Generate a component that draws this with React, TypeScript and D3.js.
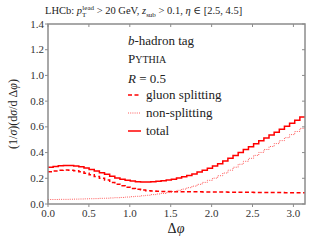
import React from 'react'
import * as d3 from 'd3'

// 50 bins over [0, pi]
const gluonSplitting = [
  0.250, 0.257, 0.262, 0.264, 0.263, 0.258, 0.250, 0.240, 0.228, 0.214,
  0.200, 0.186, 0.168, 0.154, 0.141, 0.130, 0.121, 0.114, 0.108, 0.104,
  0.101, 0.099, 0.098, 0.097, 0.096, 0.096, 0.096, 0.095, 0.095, 0.095,
  0.094, 0.094, 0.094, 0.093, 0.093, 0.092, 0.092, 0.091, 0.091, 0.091,
  0.090, 0.090, 0.090, 0.089, 0.089, 0.089, 0.088, 0.088, 0.088, 0.088,
]
const nonSplitting = [
  0.035, 0.035, 0.036, 0.036, 0.037, 0.038, 0.039, 0.040, 0.041, 0.042,
  0.044, 0.045, 0.047, 0.049, 0.051, 0.054, 0.057, 0.060, 0.064, 0.068,
  0.073, 0.078, 0.082, 0.089, 0.097, 0.106, 0.116, 0.127, 0.139, 0.153,
  0.168, 0.184, 0.201, 0.220, 0.241, 0.263, 0.286, 0.309, 0.332, 0.355,
  0.378, 0.401, 0.424, 0.447, 0.470, 0.493, 0.516, 0.540, 0.564, 0.588,
]
const total = [
  0.285, 0.292, 0.298, 0.300, 0.300, 0.296, 0.289, 0.280, 0.269, 0.256,
  0.244, 0.231, 0.215, 0.203, 0.192, 0.184, 0.178, 0.174, 0.172, 0.172,
  0.174, 0.177, 0.180, 0.186, 0.193, 0.202, 0.212, 0.222, 0.234, 0.248,
  0.262, 0.278, 0.295, 0.313, 0.334, 0.355, 0.378, 0.400, 0.423, 0.446,
  0.468, 0.491, 0.514, 0.536, 0.559, 0.582, 0.604, 0.628, 0.652, 0.676,
]
const xTicks = [0, 0.5, 1.0, 1.5, 2.0, 2.5, 3.0]
const yTicks = [0, 0.2, 0.4, 0.6, 0.8, 1.0, 1.2, 1.4]
const legendLabels = ['gluon splitting', 'non-splitting', 'total']

const W = 320
const H = 240
const margin = { top: 24, right: 15, bottom: 36, left: 48 }
const serif = '"Liberation Serif", "DejaVu Serif", serif'
const red = '#ff0000'

export default function App() {
  const iw = W - margin.left - margin.right
  const ih = H - margin.top - margin.bottom
  const x = d3.scaleLinear().domain([0, Math.PI]).range([0, iw])
  const y = d3.scaleLinear().domain([0, 1.4]).range([ih, 0])

  const nBins = total.length
  const binW = Math.PI / nBins
  const stepPath = (vals: number[]) => {
    const pts: [number, number][] = vals.map((v, i) => [i * binW, v])
    pts.push([Math.PI, vals[vals.length - 1]])
    return d3.line<[number, number]>()
      .x(d => x(d[0]))
      .y(d => y(d[1]))
      .curve(d3.curveStepAfter)(pts) as string
  }

  const styles = [
    { dash: '4,2.5', width: 1.5, color: red, opacity: 1 },
    { dash: '1,1.2', width: 1, color: '#ff4040', opacity: 0.85 },
    { dash: 'none', width: 1.5, color: red, opacity: 1 },
  ]
  const series = [gluonSplitting, nonSplitting, total]

  const frame = '#8c8c8c'
  const tickLen = 3

  return (
    <svg width={W} height={H} style={{ position: 'absolute', left: 0, top: 0 }}>
      <rect width={W} height={H} fill="white" />
      <text x={45} y={14} fontFamily={serif} fontSize={10.5} fill="#222">
        LHCb: <tspan fontStyle="italic">p</tspan>
        <tspan fontSize={7} dy={2.5}>T</tspan>
        <tspan fontSize={7} dx={-4} dy={-7}>lead</tspan>
        <tspan dy={4.5}> &gt; 20 GeV,  </tspan>
        <tspan fontStyle="italic">z</tspan>
        <tspan fontSize={7} dy={2.5}>sub</tspan>
        <tspan dy={-2.5}> &gt; 0.1,  </tspan>
        <tspan fontStyle="italic">η</tspan>
        <tspan> ∈ [2.5, 4.5]</tspan>
      </text>
      <g transform={`translate(${margin.left},${margin.top})`}>
        {series.map((s, i) => (
          <path key={i} d={stepPath(s)} fill="none" stroke={styles[i].color}
            strokeWidth={styles[i].width} strokeDasharray={styles[i].dash}
            opacity={styles[i].opacity} />
        ))}
        <rect width={iw} height={ih} fill="none" stroke={frame} strokeWidth={1.5} />
        {xTicks.map(t => (
          <g key={'x' + t}>
            <line x1={x(t)} x2={x(t)} y1={ih} y2={ih + tickLen} stroke={frame} />
            <line x1={x(t)} x2={x(t)} y1={0} y2={tickLen} stroke={frame} />
            <text x={x(t)} y={ih + 13} textAnchor="middle" fontFamily={serif}
              fontSize={11} fill="#333">{t.toFixed(1)}</text>
          </g>
        ))}
        {yTicks.map(t => (
          <g key={'y' + t}>
            <line x1={-tickLen} x2={0} y1={y(t)} y2={y(t)} stroke={frame} />
            <line x1={iw - tickLen} x2={iw} y1={y(t)} y2={y(t)} stroke={frame} />
            <text x={-4} y={y(t) + 3.5} textAnchor="end" fontFamily={serif}
              fontSize={11} fill="#333">{t.toFixed(1)}</text>
          </g>
        ))}
      </g>
      <text x={176} y={233} textAnchor="middle" fontFamily={serif} fontSize={14} fill="#222">
        Δ<tspan fontStyle="italic">φ</tspan>
      </text>
      <text transform="translate(17,114) rotate(-90)" textAnchor="middle" fontFamily={serif}
        fontSize={12} fill="#222">
        (1/<tspan fontStyle="italic">σ</tspan>)(d<tspan fontStyle="italic">σ</tspan>/d Δ<tspan fontStyle="italic">φ</tspan>)
      </text>
      <g fontFamily={serif} fill="#222">
        <text x={128} y={45} fontSize={13}>
          <tspan fontStyle="italic">b</tspan>-hadron tag
        </text>
        <text x={128} y={63} fontSize={13}>
          P<tspan fontSize={10}>YTHIA</tspan>
        </text>
        <text x={128} y={83} fontSize={13}>
          <tspan fontStyle="italic">R</tspan> = 0.5
        </text>
        {legendLabels.map((l, i) => {
          const ly = 95 + i * 18
          return (
            <g key={l}>
              <line x1={128} x2={141} y1={ly} y2={ly} stroke={styles[i].color}
                strokeWidth={styles[i].width} strokeDasharray={styles[i].dash}
                opacity={styles[i].opacity} />
              <text x={146} y={ly + 4} fontSize={13}>{l}</text>
            </g>
          )
        })}
      </g>
    </svg>
  )
}
